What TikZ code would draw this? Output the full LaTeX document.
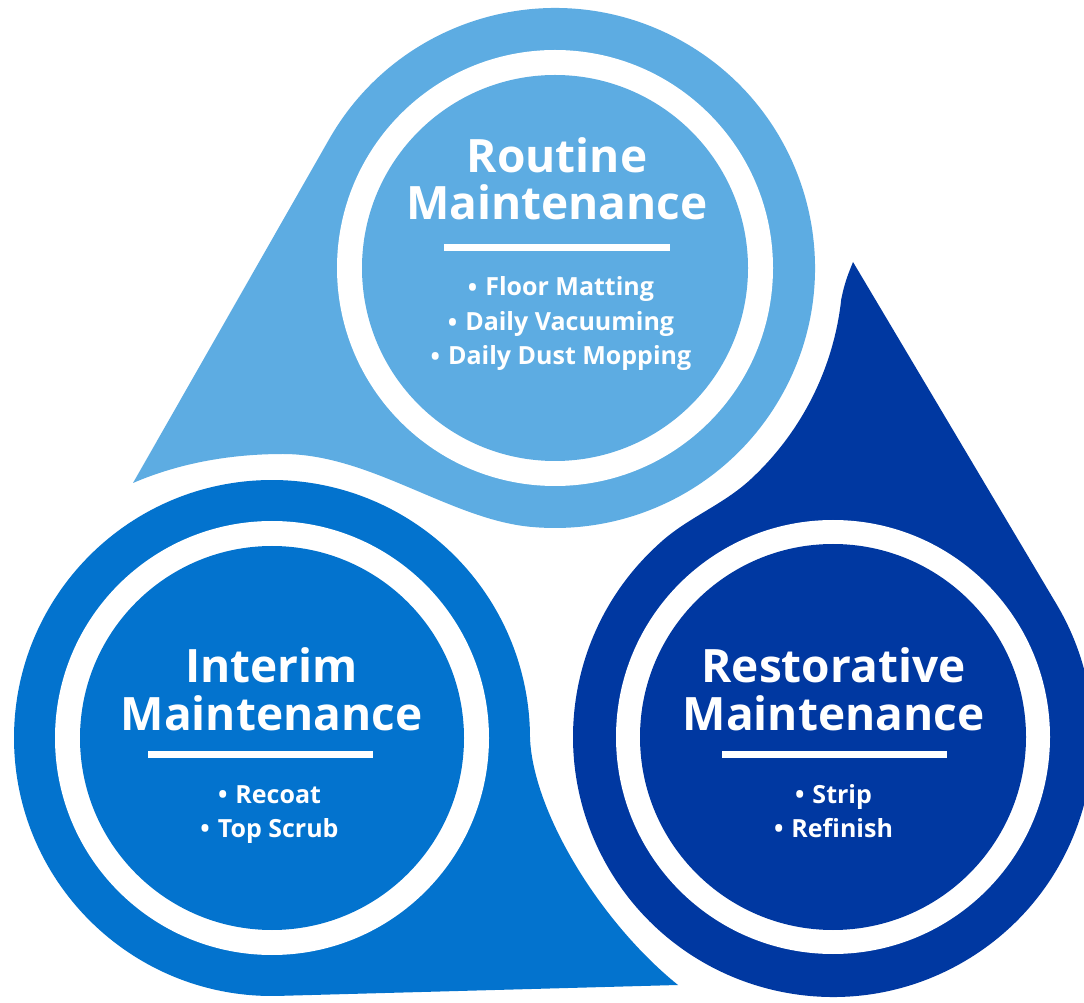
\documentclass[tikz,border=0pt]{standalone}
\usepackage{fontspec}
\setmainfont{Open Sans}
\usetikzlibrary{calc}
\definecolor{lightb}{RGB}{93,172,226}
\definecolor{midb}{RGB}{3,115,206}
\definecolor{darkb}{RGB}{0,56,161}
\newcommand{\bul}{\raisebox{-0.02em}{\textbullet}\hspace{0.32em}}
\begin{document}
\begin{tikzpicture}[x=1pt,y=1pt,
  title/.style={text=white, font=\bfseries\fontsize{46}{46}\selectfont, anchor=base, inner sep=0pt},
  item/.style={text=white, font=\bfseries\fontsize{25}{25}\selectfont, anchor=base, inner sep=0pt},
  rulebar/.style={white, line width=6.5pt},
]
\clip (0,0) rectangle (1084,1002);
\fill[white] (0,0) rectangle (1084,1002);

% centres and tips
\coordinate (C1) at (555,734);
\coordinate (T1) at (133,519);
\coordinate (C2) at (272,264);
\coordinate (T2) at (678,17);
\coordinate (C3) at (833,265);
\coordinate (T3) at (853,740);

% top drop (Routine)
\fill[lightb] (T1) -- ($(C1)+(150.3:260)$) arc[start angle=150.3, end angle=-95.5, radius=260]
  .. controls (450,483) and (370,548) .. (283,548)
  .. controls (220,548) and (170,535) .. (T1) -- cycle;

% left drop (Interim)
\fill[midb] (T2) -- ($(C2)+(-88.4:258)$) arc[start angle=-88.4, end angle=-360, radius=258]
  .. controls (533,190) and (600,80) .. (T2) -- cycle;

% right drop (Restorative)
\fill[darkb] (T3) -- ($(C3)+(30.76:260)$) arc[start angle=30.76, end angle=-227.5, radius=260]
  .. controls (686,484) and (722,496) .. (751,523)
  arc[start angle=-47.1, end angle=-6.3, radius=288]
  .. controls (845,722) and (850,732) .. (T3) -- cycle;

% rings and discs
\fill[white] (C1) circle[radius=218];
\fill[lightb] (C1) circle[radius=193];
\fill[white] (C2) circle[radius=217];
\fill[midb] (C2) circle[radius=192];
\fill[white] (C3) circle[radius=217];
\fill[darkb] (C3) circle[radius=193];

% Routine
\node[title] (rt1) at (557,829) {Routine};
\node[title] (rt2) at (557,782) {Maintenance};
\draw[rulebar] (444,754.5) -- (670,754.5);
\node[item] (rb1) at (561,706) {\bul Floor Matting};
\node[item] (rb2) at (561,671) {\bul Daily Vacuuming};
\node[item] (rb3) at (561,637) {\bul Daily Dust Mopping};

% Interim
\node[title] (it1) at (271.5,319) {Interim};
\node[title] (it2) at (271.5,272) {Maintenance};
\draw[rulebar] (148,247.5) -- (373,247.5);
\node[item] (ib1) at (269.5,199) {\bul Recoat};
\node[item] (ib2) at (269.5,165) {\bul Top Scrub};

% Restorative
\node[title] (st1) at (833.5,319) {Restorative};
\node[title] (st2) at (833.5,272) {Maintenance};
\draw[rulebar] (722,247.5) -- (947,247.5);
\node[item] (sb1) at (833.5,199) {\bul Strip};
\node[item] (sb2) at (833.5,165) {\bul Refinish};
\end{tikzpicture}
\end{document}
